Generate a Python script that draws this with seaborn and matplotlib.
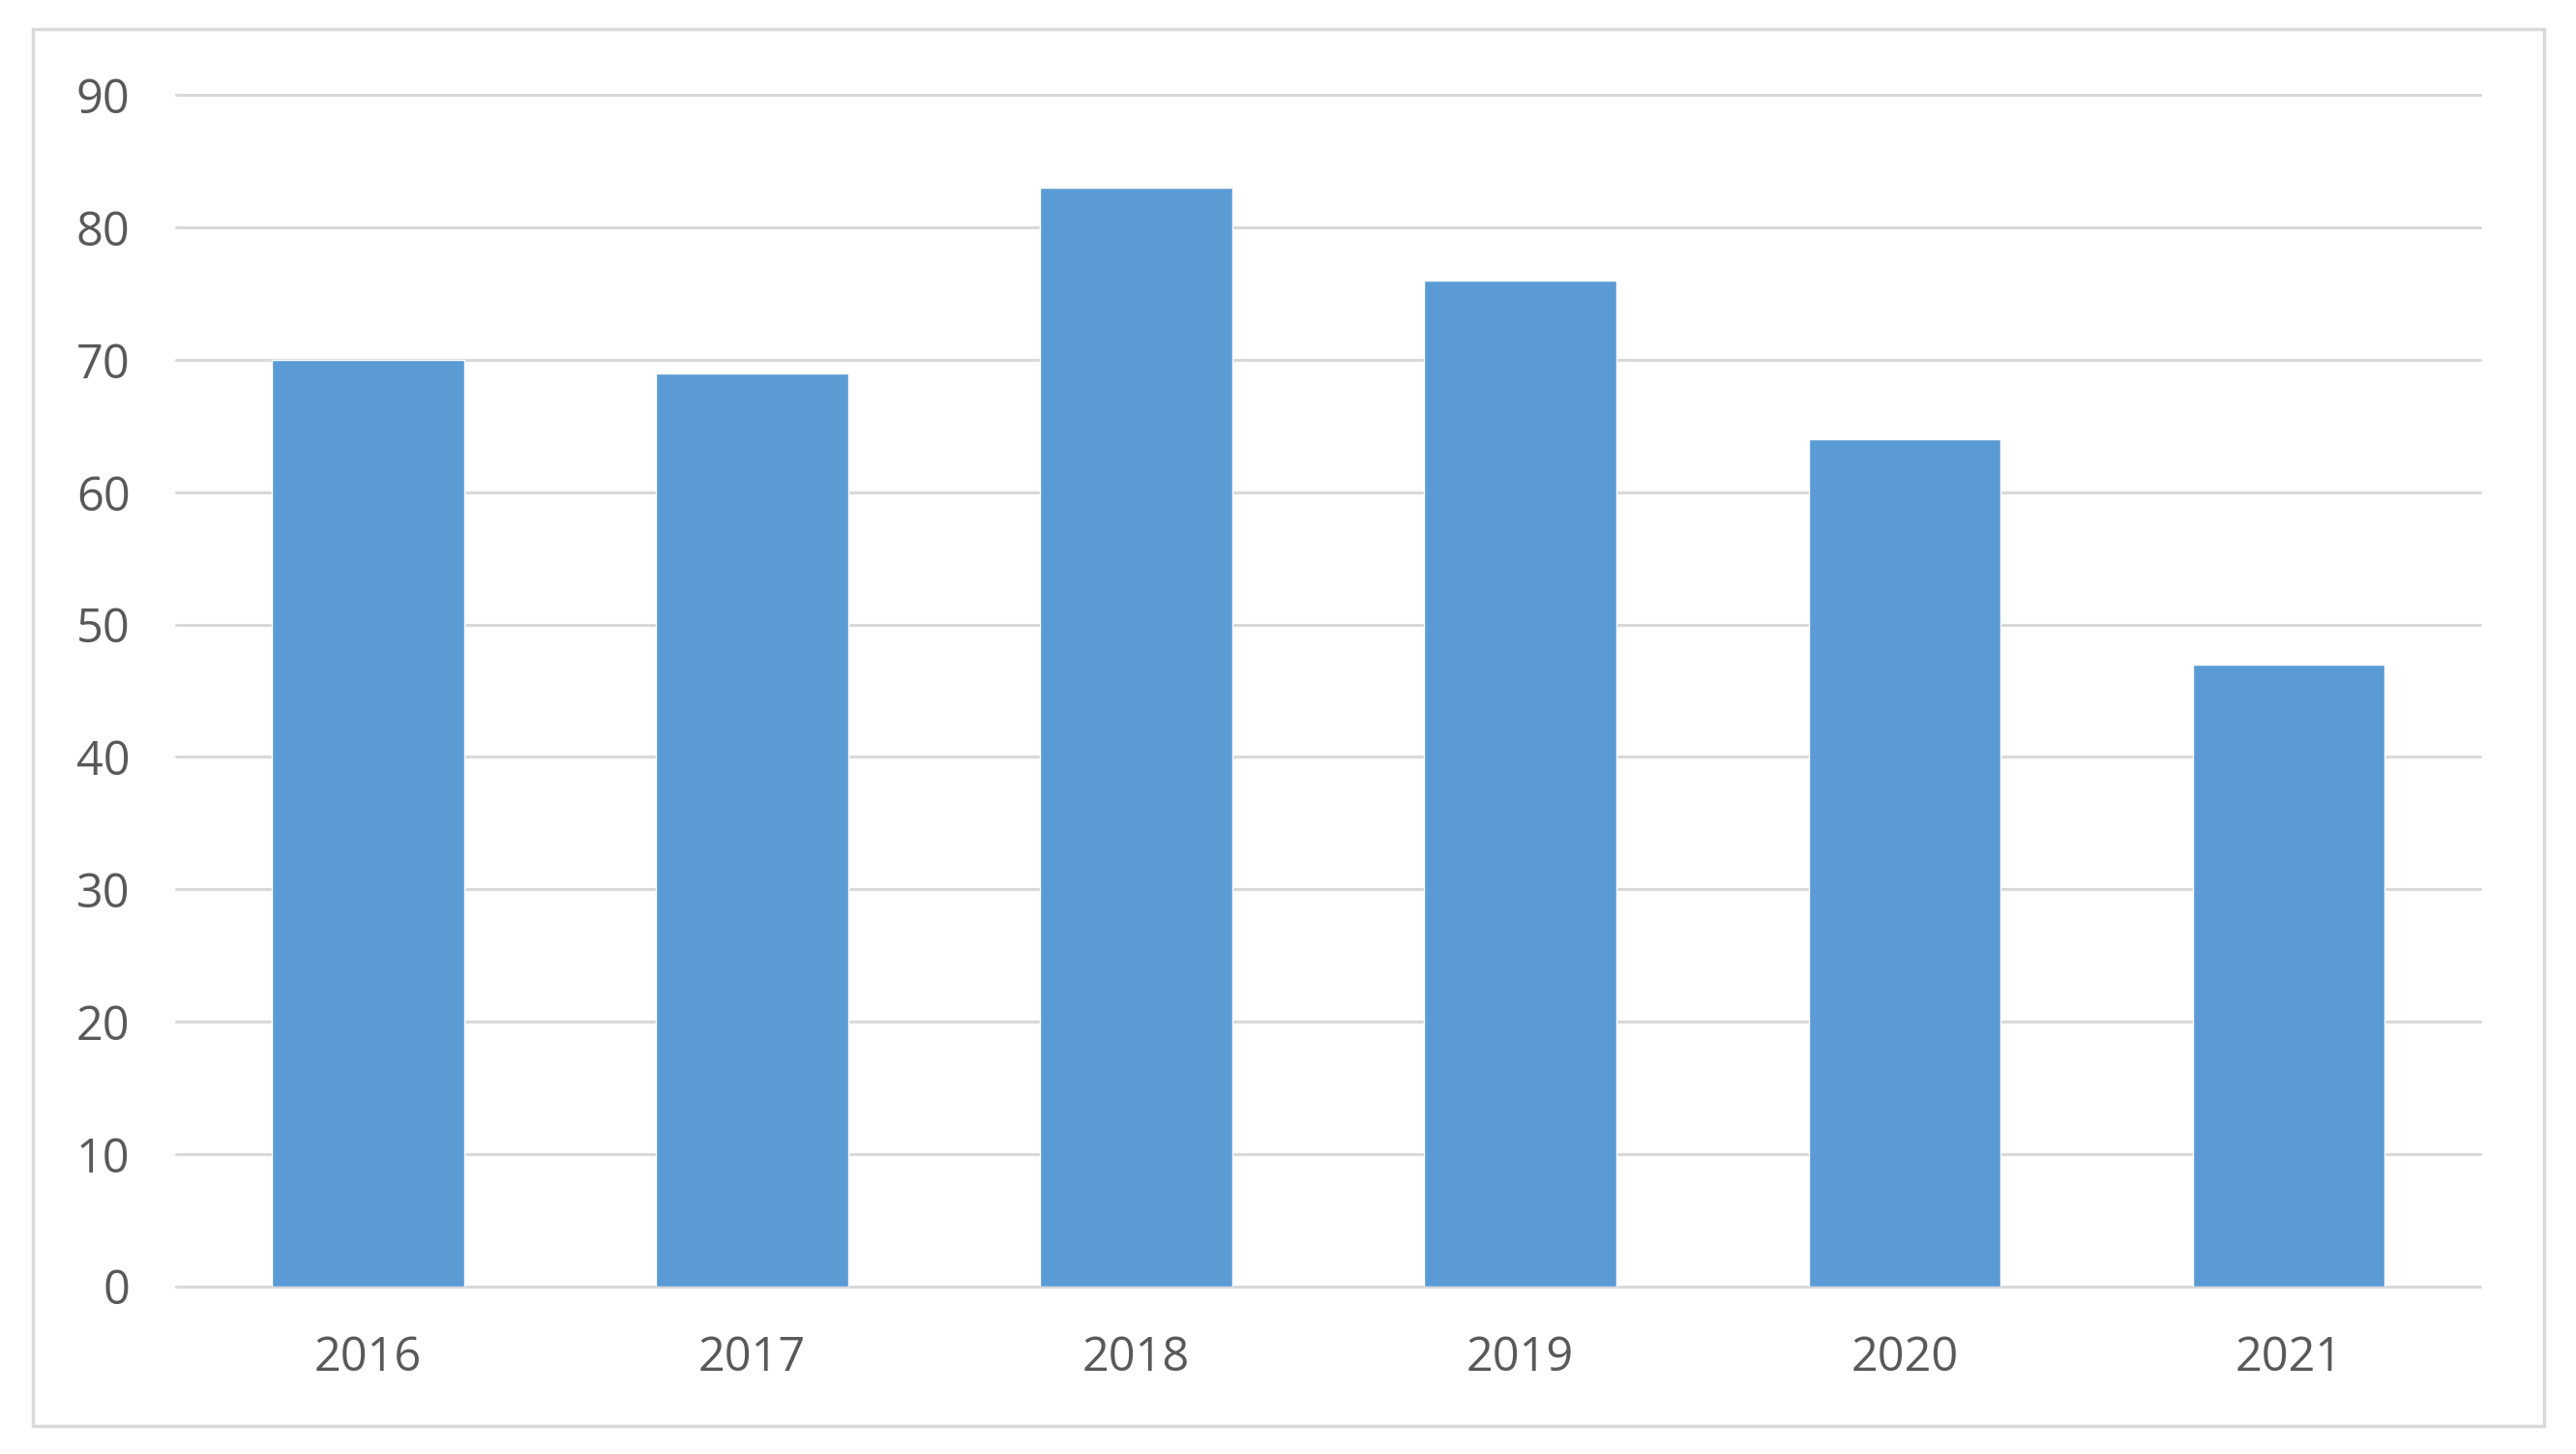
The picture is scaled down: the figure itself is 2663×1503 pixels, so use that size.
import numpy as np
import pandas as pd
import matplotlib
matplotlib.use("Agg")
import matplotlib.pyplot as plt
import seaborn as sns
from matplotlib.patches import Rectangle

years = ["2016", "2017", "2018", "2019", "2020", "2021"]
values = [70, 69, 83, 76, 64, 47]
y_ticks = [0, 10, 20, 30, 40, 50, 60, 70, 80, 90]

df = pd.DataFrame({"year": years, "value": values})

sns.set_style("white")
plt.rcParams["font.family"] = ["Liberation Sans Narrow", "Open Sans", "DejaVu Sans"]

fig = plt.figure(figsize=(26.63, 15.03), dpi=100)
ax = fig.add_axes([0.0683, 0.1154, 0.963 - 0.0683, 0.9345 - 0.1154])

sns.barplot(data=df, x="year", y="value", color="#5B9BD5", saturation=1,
            width=0.5, ax=ax, zorder=3)

ax.set_ylim(0, 90)
ax.set_xlim(-0.5, 5.5)
ax.set_yticks(y_ticks)
ax.set_xlabel("")
ax.set_ylabel("")
ax.grid(axis="y", color="#d9d9d9", linewidth=2.2, zorder=0)
ax.set_axisbelow(True)
for gl in ax.get_ygridlines():
    gl.set_clip_on(False)
for s in ax.spines.values():
    s.set_visible(False)
ax.tick_params(axis="both", length=0, labelsize=35, labelcolor="#595959")
ax.tick_params(axis="y", pad=34)
ax.tick_params(axis="x", pad=36)

# outer chart border
fig.patches.append(Rectangle((0.0128, 0.019), 0.9877 - 0.0128, 0.98 - 0.019,
                             transform=fig.transFigure, fill=False,
                             edgecolor="#d9d9d9", linewidth=2.5))

fig.savefig("out.png", dpi=100, facecolor="white")
